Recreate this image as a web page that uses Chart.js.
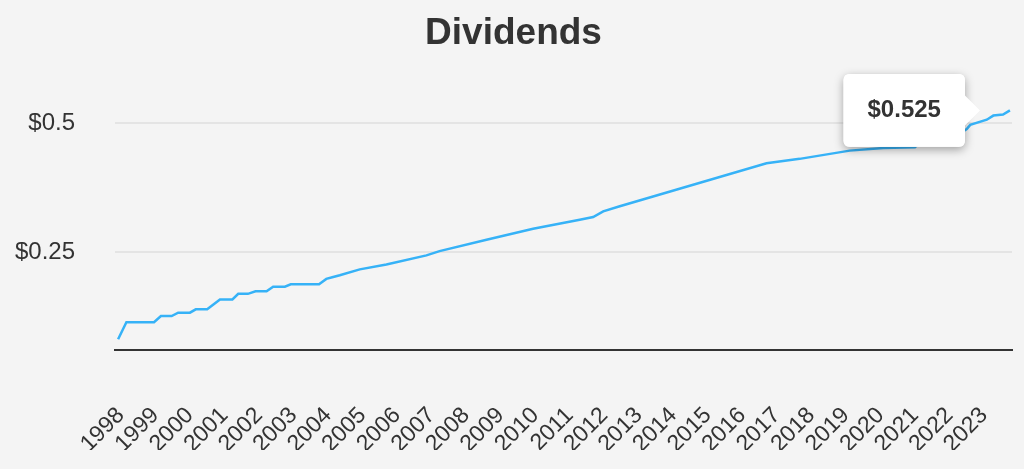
<!DOCTYPE html>
<html>
<head>
<meta charset="utf-8">
<script src="https://cdn.jsdelivr.net/npm/chart.js@4/dist/chart.umd.min.js"></script>
<style>
  html, body { margin: 0; padding: 0; background: #f4f4f4; }
  #wrap { width: 1024px; height: 469px; position: relative; }
</style>
</head>
<body>
<div id="wrap"><canvas id="divChart"></canvas></div>
<script>
// dividend history (decimal year / $ per share)
const payDates = [
  1997.92, 1998.16, 1998.96, 1999.16, 1999.47, 1999.66, 2000.0, 2000.17,
  2000.5, 2000.87, 2001.23, 2001.4, 2001.68, 2001.9, 2002.22, 2002.41,
  2002.75, 2002.92, 2003.74, 2003.95, 2004.15, 2004.34, 2004.92, 2005.69,
  2006.85, 2007.23, 2008.59, 2009.94, 2011.29, 2011.68, 2011.97, 2012.45,
  2016.7, 2017.66, 2019.11, 2020.08, 2021.0, 2021.1, 2021.58, 2021.78,
  2022.25, 2022.5, 2022.6, 2023.08, 2023.27, 2023.55, 2023.75
];
const dividends = [
  0.081, 0.114, 0.114, 0.126, 0.126, 0.1325, 0.1325, 0.139,
  0.139, 0.158, 0.158, 0.169, 0.169, 0.174, 0.174, 0.183,
  0.183, 0.1875, 0.1875, 0.198, 0.2016, 0.205, 0.2165, 0.226,
  0.2436, 0.252, 0.274, 0.2953, 0.313, 0.318, 0.329, 0.339,
  0.4225, 0.431, 0.447, 0.452, 0.4535, 0.46, 0.46, 0.474,
  0.478, 0.489, 0.497, 0.507, 0.515, 0.517, 0.525
];
const tickYears = [];
for (let y = 1998; y <= 2023; y++) tickYears.push(y);
const yTicks = [0.25, 0.5];

const FONT = "'Liberation Sans', Arial, sans-serif";

// white box with a soft shadow under the tooltip
const tooltipShadow = {
  id: 'tooltipShadow',
  beforeTooltipDraw(chart, args) {
    const tt = args.tooltip;
    if (!tt || tt.opacity === 0) return;
    const ctx = chart.ctx;
    ctx.save();
    ctx.shadowColor = 'rgba(0,0,0,0.35)';
    ctx.shadowBlur = 10;
    ctx.shadowOffsetY = 3;
    ctx.fillStyle = '#fff';
    ctx.beginPath();
    ctx.roundRect(tt.x, tt.y, tt.width, tt.height, 6);
    ctx.fill();
    ctx.restore();
  }
};

const ctx = document.getElementById('divChart').getContext('2d');
const chart = new Chart(ctx, {
  type: 'line',
  data: {
    datasets: [{
      label: 'Dividends',
      data: payDates.map((d, i) => ({ x: d, y: dividends[i] })),
      borderColor: '#36b2f7',
      borderWidth: 2.5,
      pointRadius: 0,
      pointHoverRadius: 0,
      tension: 0,
      fill: false
    }]
  },
  options: {
    responsive: true,
    maintainAspectRatio: false,
    animation: false,
    events: [],
    layout: { padding: { left: 15, right: 12, top: 0, bottom: 19 } },
    plugins: {
      legend: { display: false },
      title: {
        display: true,
        text: 'Dividends',
        color: '#333',
        font: { family: FONT, size: 37, weight: 'bold' },
        padding: { top: 12, bottom: 36 }
      },
      tooltip: {
        enabled: true,
        xAlign: 'right',
        yAlign: 'center',
        backgroundColor: '#fff',
        bodyColor: '#333',
        bodyFont: { family: FONT, size: 24, weight: 'bold' },
        padding: { left: 24, right: 24, top: 22, bottom: 22 },
        cornerRadius: 6,
        caretSize: 15,
        caretPadding: 30,
        displayColors: false,
        callbacks: {
          title: () => '',
          label: (item) => '$' + item.parsed.y.toFixed(3)
        }
      }
    },
    scales: {
      x: {
        type: 'linear',
        min: 1997.83,
        max: 2023.81,
        grid: { display: false },
        border: { display: true, color: '#333', width: 2 },
        afterBuildTicks: (axis) => { axis.ticks = tickYears.map(v => ({ value: v })); },
        afterFit: (axis) => {
          axis.height = 100;
          axis.paddingLeft = 0;
          axis.paddingRight = 0;
        },
        ticks: {
          autoSkip: false,
          maxRotation: 45,
          minRotation: 45,
          padding: 44,
          color: '#333',
          font: { family: FONT, size: 23 },
          callback: (v) => String(v)
        }
      },
      y: {
        min: 0.06,
        max: 0.56,
        afterBuildTicks: (axis) => { axis.ticks = yTicks.map(v => ({ value: v })); },
        afterFit: (axis) => { axis.width = 100; },
        grid: { color: '#e4e4e4', lineWidth: 2, drawTicks: false },
        border: { display: false },
        ticks: {
          padding: 40,
          color: '#333',
          font: { family: FONT, size: 24 },
          callback: (v) => '$' + v
        }
      }
    }
  },
  plugins: [tooltipShadow]
});

// show the tooltip on the latest payment
const lastIdx = dividends.length - 1;
const lastPt = chart.getDatasetMeta(0).data[lastIdx];
chart.tooltip.setActiveElements([{ datasetIndex: 0, index: lastIdx }], { x: lastPt.x, y: lastPt.y });
chart.update();
</script>
</body>
</html>
